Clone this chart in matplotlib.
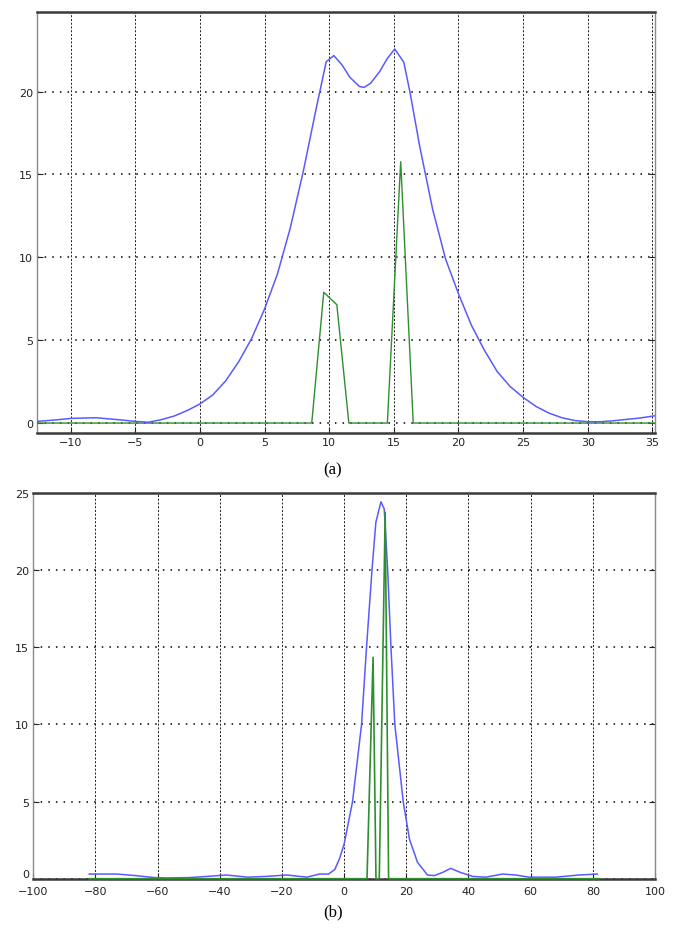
import matplotlib
matplotlib.use("Agg")
import matplotlib.pyplot as plt

# ---- data: panel (a) ----
a_blue_x = [-12.6, -11, -10, -8, -6, -5, -4, -3, -2, -1, 0, 1, 2, 3, 4, 5, 6, 7, 8, 9,
            9.77, 10.36, 11, 11.6, 12.35, 12.7, 13.2, 13.9, 14.5, 15.07, 15.77, 16.25,
            17, 18, 19, 20, 21, 22, 23, 24, 25, 26, 27, 28, 29, 30, 31, 32, 33, 34, 35.2]
a_blue_y = [0.1, 0.2, 0.28, 0.32, 0.18, 0.1, 0.05, 0.2, 0.42, 0.75, 1.15, 1.7, 2.55, 3.7, 5.1,
            6.88, 9.0, 11.8, 15.2, 19.0, 21.8, 22.17, 21.6, 20.86, 20.3, 20.25, 20.5, 21.2,
            22.0, 22.57, 21.77, 19.96, 16.7, 12.9, 9.9, 7.8, 5.9, 4.4, 3.1, 2.2, 1.55, 1.0,
            0.6, 0.32, 0.15, 0.08, 0.08, 0.14, 0.22, 0.3, 0.44]
a_green_x = [-12.6, 8.65, 9.58, 10.59, 11.52, 14.5, 15.53, 16.5, 35.2]
a_green_y = [0, 0, 7.89, 7.14, 0, 0, 15.77, 0, 0]
a_xticks = [-10, -5, 0, 5, 10, 15, 20, 25, 30, 35]
a_yticks = [0, 5, 10, 15, 20]

# ---- data: panel (b) ----
b_blue_x = [-82, -73, -67, -61, -57, -50, -44, -38, -31, -25, -18.5, -12, -8, -5, -3, -1.5,
            0, 2.7, 5.6, 7.2, 8.95, 10.2, 11.84, 12.9, 14.0, 15.06, 16.3, 19.0, 21, 23.6,
            26.8, 29, 31.6, 34.3, 37.5, 41.3, 45.6, 50.9, 55.2, 59.5, 68, 75.6, 81.4]
b_blue_y = [0.3, 0.3, 0.2, 0.07, 0.05, 0.07, 0.15, 0.24, 0.1, 0.15, 0.24, 0.1, 0.3, 0.3, 0.6,
            1.3, 2.25, 5.0, 10.0, 15.0, 20.0, 23.1, 24.43, 23.96, 20.0, 15.0, 10.0, 5.0,
            2.57, 1.06, 0.24, 0.2, 0.4, 0.67, 0.4, 0.15, 0.1, 0.3, 0.24, 0.1, 0.1, 0.24, 0.3]
b_green_x = [-82, 7.35, 9.3, 10.24, 11.3, 13.2, 14.3, 82]
b_green_y = [0, 0, 14.35, 0, 0, 23.74, 0, 0]
b_xticks = [-100, -80, -60, -40, -20, 0, 20, 40, 60, 80, 100]
b_yticks = [0, 5, 10, 15, 20, 25]

BLUE = "#5a5aff"
GREEN = "#2f8f2f"

fig = plt.figure(figsize=(6.75, 9.29), dpi=100)
ax1 = fig.add_axes([37 / 675, 1 - 434 / 929, 618 / 675, 421 / 929])
ax2 = fig.add_axes([33.3 / 675, 1 - 879.7 / 929, 621.7 / 675, 385.7 / 929])


def style(ax):
    ax.grid(False)
    for x in ax.get_xticks():
        ax.axvline(x, color="black", lw=0.6, ls=(0, (2.5, 2)), zorder=0)
    for y in ax.get_yticks():
        ax.axhline(y, color="black", lw=1.1, ls=(0, (1, 4)), zorder=0)
    for s in ["top", "bottom"]:
        ax.spines[s].set_color("#3a3a3a")
        ax.spines[s].set_linewidth(1.8)
    for s in ["left", "right"]:
        ax.spines[s].set_color("#8a8a8a")
        ax.spines[s].set_linewidth(1.0)
    ax.tick_params(axis="both", direction="in", length=4, width=0.8,
                   labelsize=8, colors="#222222", pad=3)
    ax.tick_params(axis="y", right=True)


ax1.set_xlim(-12.6, 35.2)
ax1.set_ylim(-0.6, 24.8)
ax1.set_xticks(a_xticks)
ax1.set_yticks(a_yticks)
style(ax1)
ax1.plot(a_green_x, a_green_y, color=GREEN, lw=1.0, zorder=3)
ax1.plot(a_blue_x, a_blue_y, color=BLUE, lw=1.1, zorder=4)

ax2.set_xlim(-100, 100)
ax2.set_ylim(0, 25)
ax2.set_xticks(b_xticks)
ax2.set_yticks(b_yticks)
style(ax2)
ax2.plot(b_blue_x, b_blue_y, color=BLUE, lw=1.1, zorder=3)
ax2.plot(b_green_x, b_green_y, color=GREEN, lw=1.2, zorder=4, clip_on=False)
ax2.tick_params(axis="x", pad=5)
# lift the "0" y label slightly so it sits just above the "-100" x label
ax2.get_yticklabels()[0].set_verticalalignment("bottom")

fig.text(333 / 675, 1 - 470 / 929, "(a)", ha="center", va="center",
         fontsize=12, family="Liberation Serif")
fig.text(333 / 675, 1 - 912 / 929, "(b)", ha="center", va="center",
         fontsize=12, family="Liberation Serif")

fig.savefig("out.png", dpi=100)
